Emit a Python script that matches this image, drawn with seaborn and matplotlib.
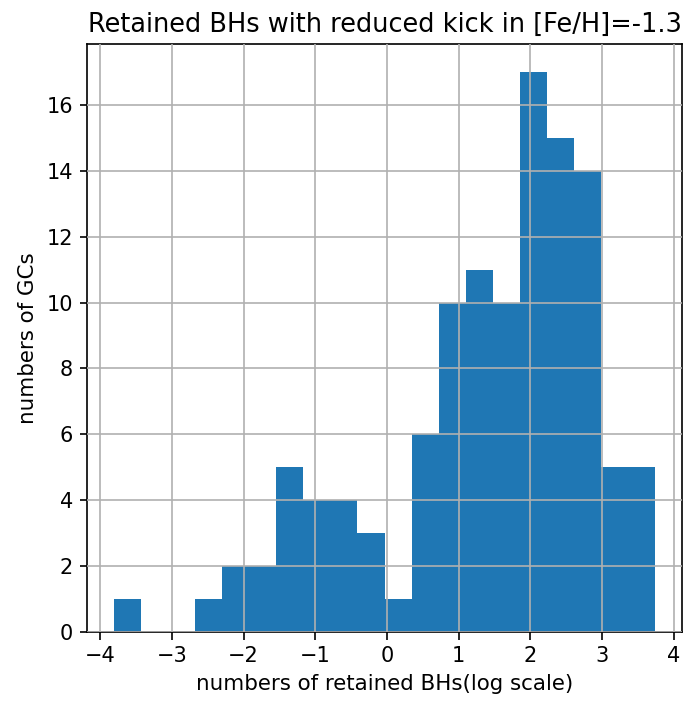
import numpy as np
import pandas as pd
import matplotlib
matplotlib.use("Agg")
import matplotlib.pyplot as plt
import seaborn as sns

# Histogram data (20 equal bins)
bin_min = -3.805
bin_max = 3.735
n_bins = 20
counts = [1, 0, 0, 1, 2, 2, 5, 4, 4, 3, 1, 6, 10, 11, 10, 17, 15, 14, 5, 5]

title = "Retained BHs with reduced kick in [Fe/H]=-1.3"
xlabel = "numbers of retained BHs(log scale)"
ylabel = "numbers of GCs"

edges = np.linspace(bin_min, bin_max, n_bins + 1)
centers = (edges[:-1] + edges[1:]) / 2
df = pd.DataFrame({"x": centers, "w": counts})

sns.set_style("white")
plt.rcParams['font.family'] = ['DejaVu Sans']
plt.rcParams['text.color'] = 'black'
plt.rcParams['axes.labelcolor'] = 'black'

fig = plt.figure(figsize=(686 / 120, 702 / 120), dpi=120)
ax = fig.add_axes([87 / 686, 1 - 632 / 702, (682 - 87) / 686, (632 - 44) / 702])

sns.histplot(data=df, x="x", weights="w", bins=n_bins, binrange=(bin_min, bin_max),
             ax=ax, color="#1f77b4", alpha=1.0, edgecolor="none", linewidth=0)

ax.set_xlim(bin_min - 0.05 * (bin_max - bin_min), bin_max + 0.05 * (bin_max - bin_min))
ax.set_ylim(0, 17.85)
ax.set_xticks(range(-4, 5))
ax.set_yticks(range(0, 17, 2))
ax.grid(True, color="#b0b0b0", linewidth=1.0)
ax.set_axisbelow(False)
for s in ax.spines.values():
    s.set_visible(True)
    s.set_color("black")
    s.set_linewidth(1.0)
ax.tick_params(axis="both", which="major", length=4.5, width=1.0, direction="out",
               labelsize=12.5, colors="black", bottom=True, left=True, pad=4)
ax.set_title(title, fontsize=15.4, color="black", pad=7)
ax.set_xlabel(xlabel, fontsize=12.8, color="black", labelpad=5)
ax.set_ylabel(ylabel, fontsize=12.8, color="black", labelpad=5)

fig.savefig("out.png", dpi=120)
